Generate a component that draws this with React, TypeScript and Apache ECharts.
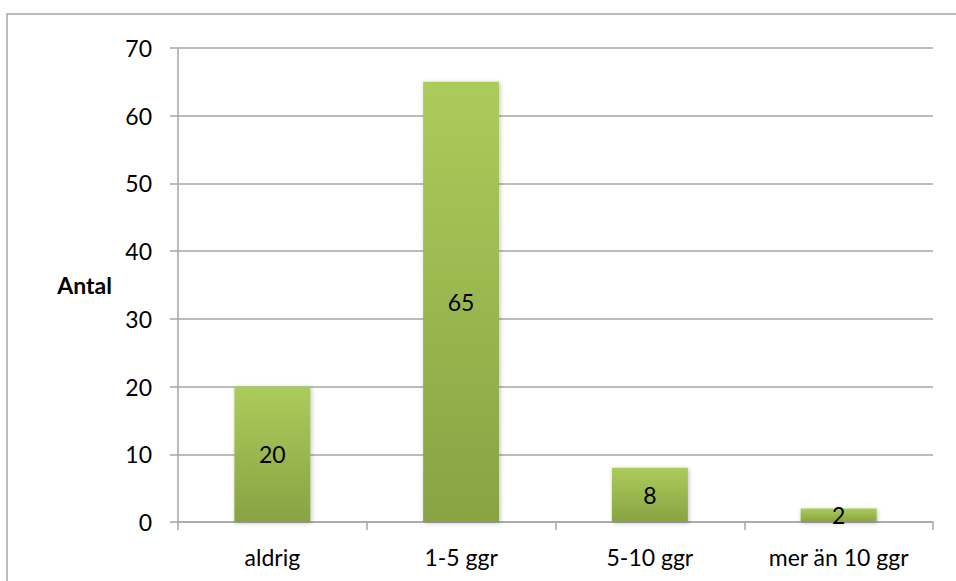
import React, { useEffect, useRef } from "react";
import * as echarts from "echarts";

// Antal svar per kategori
const categories = ["aldrig", "1-5 ggr", "5-10 ggr", "mer än 10 ggr"];
const values = [20, 65, 8, 2];
const yTicks = { min: 0, max: 70, interval: 10 };
const axisTitle = "Antal";

const FONT = "Lato, 'Open Sans', sans-serif";
const GREY = "#a6a6a6";
const FS = 23;

export default function App() {
  const ref = useRef<HTMLDivElement>(null);

  useEffect(() => {
    document.body.style.margin = "0";
    if (!ref.current) return;
    const chart = echarts.init(ref.current, undefined, { renderer: "svg" });
    chart.setOption({
      animation: false,
      backgroundColor: "#ffffff",
      textStyle: { fontFamily: FONT },
      graphic: [
        {
          type: "rect",
          shape: { x: 7, y: 14, width: 970, height: 600 },
          style: { fill: "none", stroke: GREY, lineWidth: 1.5 },
          silent: true,
        },
      ],
      grid: { left: 178, right: 23, top: 48, bottom: 59, containLabel: false },
      xAxis: {
        type: "category",
        data: categories,
        axisLine: { show: true, lineStyle: { color: GREY, width: 1.5 } },
        axisTick: { show: true, length: 8, lineStyle: { color: GREY, width: 1.5 } },
        axisLabel: { color: "#000", fontSize: FS, margin: 23, fontFamily: FONT },
      },
      yAxis: {
        type: "value",
        min: yTicks.min,
        max: yTicks.max,
        interval: yTicks.interval,
        name: axisTitle,
        nameLocation: "middle",
        nameRotate: 0,
        nameGap: 66,
        nameTextStyle: { color: "#000", fontSize: 23, fontWeight: "bold", fontFamily: FONT, align: "right" },
        axisLine: { show: true, lineStyle: { color: GREY, width: 1.5 } },
        axisTick: { show: true, length: 8, lineStyle: { color: GREY, width: 1.5 } },
        axisLabel: { color: "#000", fontSize: FS, margin: 26, fontFamily: FONT },
        splitLine: { show: true, lineStyle: { color: GREY, width: 1.5 } },
      },
      series: [
        {
          type: "bar",
          data: values,
          barWidth: 76,
          itemStyle: {
            color: new echarts.graphic.LinearGradient(0, 0, 0, 1, [
              { offset: 0, color: "#abcc5b" },
              { offset: 1, color: "#88a343" },
            ]),
            shadowBlur: 4,
            shadowColor: "rgba(0,0,0,0.25)",
            shadowOffsetX: 1,
            shadowOffsetY: 1,
          },
          label: {
            show: true,
            position: "inside",
            color: "#000",
            fontSize: FS,
            fontFamily: FONT,
          },
        },
      ],
    });
    return () => chart.dispose();
  }, []);

  return <div ref={ref} style={{ width: 956, height: 581 }} />;
}
